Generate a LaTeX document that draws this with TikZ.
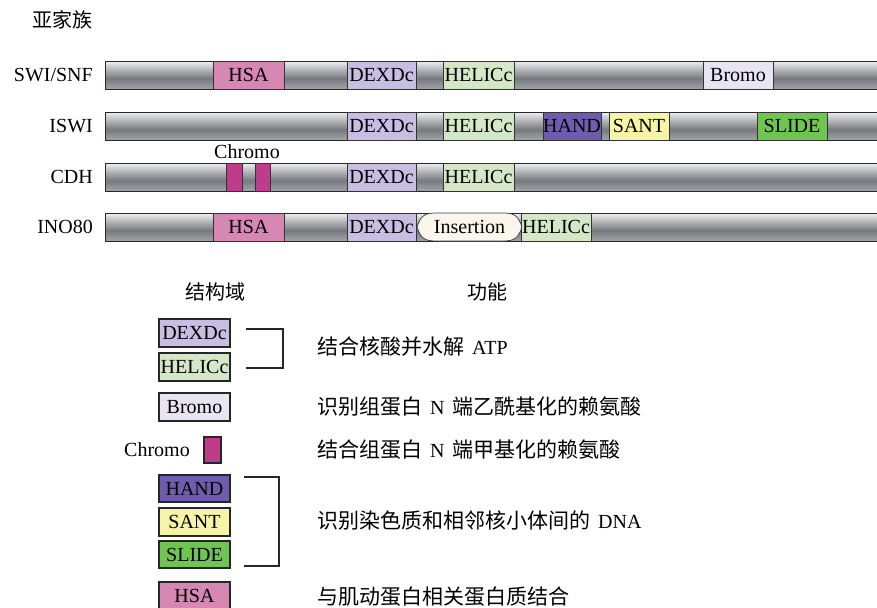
\documentclass[tikz,border=0pt]{standalone}
\usepackage{fontspec}
\setmainfont{Liberation Serif}
\newfontfamily\cjk{Noto Sans CJK SC}
\definecolor{bgA}{RGB}{150,152,156}
\definecolor{bgB}{RGB}{188,190,193}
\definecolor{bgC}{RGB}{118,121,126}
\definecolor{bgD}{RGB}{234,235,237}
\definecolor{bgE}{RGB}{165,167,170}
\definecolor{cHSA}{RGB}{214,135,180}
\definecolor{cDEX}{RGB}{200,190,226}
\definecolor{cHEL}{RGB}{212,232,200}
\definecolor{cBRO}{RGB}{232,228,242}
\definecolor{cHAND}{RGB}{112,92,172}
\definecolor{cSANT}{RGB}{246,244,166}
\definecolor{cSLIDE}{RGB}{112,196,82}
\definecolor{cCHR}{RGB}{190,60,140}
\definecolor{cINS}{RGB}{251,246,236}
\pgfdeclareverticalshading{barshade}{100bp}{color(0bp)=(bgA); color(15bp)=(bgB); color(45bp)=(bgC); color(75bp)=(bgD); color(100bp)=(bgE)}
\newcommand{\cjkf}{\fontsize{21}{24}\selectfont\cjk}
\tikzset{
  lbl/.style={font=\fontsize{20}{24}\selectfont, inner sep=0pt},
  cjklbl/.style={font=\fontsize{20}{24}\selectfont\cjk, inner sep=0pt},
  barnode/.style={shading=barshade, draw=black!85, line width=1.3pt, inner sep=0pt, anchor=north west, minimum height=28pt, minimum width=780pt},
  dombox/.style={draw=black!80, line width=0.8pt, inner sep=0pt, minimum height=28pt, font=\fontsize{20}{24}\selectfont},
  legbox/.style={draw=black!85, line width=1.4pt, inner sep=0pt, font=\fontsize{20}{24}\selectfont},
  brk/.style={draw=black!85, line width=1.4pt},
}
\newcommand{\dom}[6]{\node[dombox, fill=#5, minimum width={(#3-#2)*1pt}] (#1) at ({(#2+#3)/2},#4) {#6};}
\newcommand{\legb}[7]{\node[legbox, fill=#6, minimum width={(#3-#2)*1pt}, minimum height={(#5-#4)*1pt}] (#1) at ({(#2+#3)/2},{(#4+#5)/2}) {#7};}
\begin{document}
\begin{tikzpicture}[x=1pt,y=-1pt]
\useasboundingbox (0,0) rectangle (877,607);
\fill[white] (0,0) rectangle (877,607);

\node[cjklbl] (title) at (62,20) {亚家族};

% row labels
\node[lbl, anchor=east] (l1) at (93,75) {SWI/SNF};
\node[lbl, anchor=east] (l2) at (93,126) {ISWI};
\node[lbl, anchor=east] (l3) at (93,177) {CDH};
\node[lbl, anchor=east] (l4) at (93,227) {INO80};

% bars
\node[barnode] (bar1) at (105,61) {};
\node[barnode] (bar2) at (105,112) {};
\node[barnode] (bar3) at (105,163) {};
\node[barnode] (bar4) at (105,213) {};

% row 1
\dom{r1hsa}{213}{284}{75}{cHSA}{HSA}
\dom{r1dex}{347}{416}{75}{cDEX}{DEXDc}
\dom{r1hel}{443}{514}{75}{cHEL}{HELICc}
\dom{r1bro}{703}{773}{75}{cBRO}{Bromo}
% row 2
\dom{r2dex}{347}{416}{126}{cDEX}{DEXDc}
\dom{r2hel}{443}{514}{126}{cHEL}{HELICc}
\dom{r2hand}{543}{601}{126}{cHAND}{HAND}
\dom{r2sant}{609}{669}{126}{cSANT}{SANT}
\dom{r2slide}{757}{827}{126}{cSLIDE}{SLIDE}
% row 3
\dom{r3chra}{226}{242}{177}{cCHR}{}
\dom{r3chrb}{255}{270}{177}{cCHR}{}
\node[lbl] (chrlbl) at (247,152) {Chromo};
\dom{r3dex}{347}{416}{177}{cDEX}{DEXDc}
\dom{r3hel}{443}{514}{177}{cHEL}{HELICc}
% row 4
\dom{r4hsa}{213}{284}{227}{cHSA}{HSA}
\dom{r4dex}{347}{416}{227}{cDEX}{DEXDc}
\draw[fill=cINS, draw=black!75, line width=0.7pt]
  (417,227) .. controls (421,215) and (425,213) .. (437,213) -- (502,213)
  .. controls (514,213) and (518,215) .. (522,227)
  .. controls (518,239) and (514,241) .. (502,241) -- (437,241)
  .. controls (425,241) and (421,239) .. (417,227) -- cycle;
\node[lbl] (ins) at (469.5,227) {Insertion};
\dom{r4hel}{521}{591}{227}{cHEL}{HELICc}

% legend headers
\node[cjklbl] (h1) at (215,292) {结构域};
\node[cjklbl] (h2) at (487,292) {功能};

% legend boxes
\legb{ldex}{159}{230}{319}{347}{cDEX}{DEXDc}
\legb{lhel}{159}{230}{353}{381}{cHEL}{HELICc}
\legb{lbro}{159}{230}{393}{421}{cBRO}{Bromo}
\legb{lchr}{204}{221}{437}{463}{cCHR}{}
\node[lbl, anchor=east] (lchrlbl) at (190,450) {Chromo};
\legb{lhand}{159}{230}{475}{502}{cHAND}{HAND}
\legb{lsant}{159}{230}{508}{536}{cSANT}{SANT}
\legb{lslide}{159}{230}{541}{568}{cSLIDE}{SLIDE}
\legb{lhsa}{159}{230}{582}{610}{cHSA}{HSA}

% brackets
\coordinate (b1a) at (246,329);
\coordinate (b1b) at (283,329);
\coordinate (b1c) at (283,368);
\coordinate (b1d) at (246,368);
\draw[brk] (b1a) -- (b1b) -- (b1c) -- (b1d);
\coordinate (b2a) at (244,477);
\coordinate (b2b) at (279,477);
\coordinate (b2c) at (279,566);
\coordinate (b2d) at (244,566);
\draw[brk] (b2a) -- (b2b) -- (b2c) -- (b2d);

% functions
\node[lbl, anchor=west] (f1) at (317,347) {{\cjkf 结合核酸并水解}\hspace{8pt}ATP};
\node[lbl, anchor=west] (f2) at (317,407) {{\cjkf 识别组蛋白}\hspace{8pt}N\hspace{8pt}{\cjkf 端乙酰基化的赖氨酸}};
\node[lbl, anchor=west] (f3) at (317,450) {{\cjkf 结合组蛋白}\hspace{8pt}N\hspace{8pt}{\cjkf 端甲基化的赖氨酸}};
\node[lbl, anchor=west] (f4) at (317,521) {{\cjkf 识别染色质和相邻核小体间的}\hspace{8pt}DNA};
\node[lbl, anchor=west] (f5) at (317,597) {{\cjkf 与肌动蛋白相关蛋白质结合}};
\end{tikzpicture}
\end{document}
